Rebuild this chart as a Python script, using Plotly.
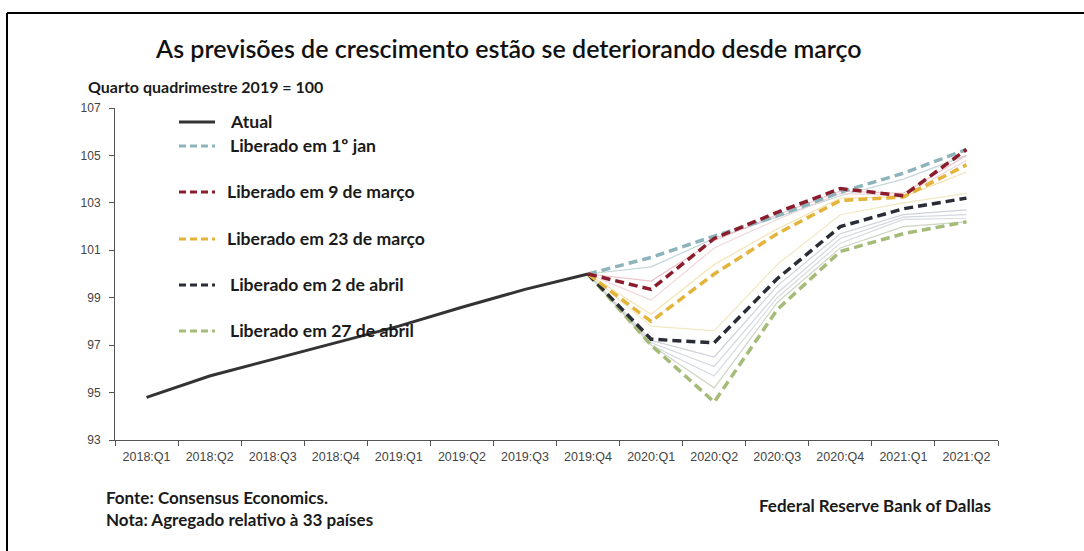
import plotly.graph_objects as go

# ---------------- data ----------------
quarters = ["2018:Q1", "2018:Q2", "2018:Q3", "2018:Q4", "2019:Q1", "2019:Q2", "2019:Q3",
            "2019:Q4", "2020:Q1", "2020:Q2", "2020:Q3", "2020:Q4", "2021:Q1", "2021:Q2"]
hist_q = quarters[:8]
fc_q = quarters[7:]

atual = [94.8, 95.7, 96.4, 97.1, 97.8, 98.6, 99.35, 100.0]

jan1 = [100.0, 100.7, 101.6, 102.45, 103.45, 104.25, 105.25]
mar9 = [100.0, 99.35, 101.5, 102.6, 103.6, 103.3, 105.25]
mar23 = [100.0, 98.0, 100.0, 101.7, 103.1, 103.25, 104.6]
abr2 = [100.0, 97.25, 97.1, 99.8, 102.0, 102.75, 103.2]
abr27 = [100.0, 97.0, 94.6, 98.5, 100.95, 101.7, 102.2]

# intermediate (unlabelled) releases, faint lines
thin_series = [
    [100.0, 100.3, 101.5, 102.4, 103.3, 104.0, 105.0],
    [100.0, 99.7, 101.4, 102.5, 103.5, 103.4, 105.0],
    [100.0, 98.9, 101.1, 102.3, 103.4, 103.3, 104.8],
    [100.0, 98.3, 100.4, 101.9, 103.2, 103.25, 104.3],
    [100.0, 97.8, 97.6, 100.4, 102.5, 103.0, 103.4],
    [100.0, 97.2, 96.5, 99.5, 101.7, 102.5, 102.7],
    [100.0, 97.1, 96.1, 99.2, 101.5, 102.4, 102.5],
    [100.0, 97.0, 95.7, 99.0, 101.3, 102.3, 102.35],
    [100.0, 97.0, 95.2, 98.8, 101.1, 102.0, 102.2],
]
thin_colors = ["#c3d6d8", "#ecc4ca", "#f1d6da", "#f3e4b4", "#f2e8c2",
               "#cfd2da", "#d4d7de", "#d8dbe1", "#cdd5c3"]

y_ticks = [93, 95, 97, 99, 101, 103, 105, 107]

labels = ["Atual", "Liberado em 1º jan", "Liberado em 9 de março", "Liberado em 23 de março",
          "Liberado em 2 de abril", "Liberado em 27 de abril"]

# ---------------- styles ----------------
C_ACT = "#333333"
C_JAN = "#8db4bb"
C_MAR9 = "#8b1c2c"
C_MAR23 = "#e3b33a"
C_ABR2 = "#2a2d36"
C_ABR27 = "#a5bb78"
DASH = "9px,5px"
FONT = "Lato"
LEG_FONT = dict(family=FONT, size=17.6, color="#1a1a1a", weight="bold")
SUB_FONT = dict(family=FONT, size=16, color="#1a1a1a", weight="bold")
FOOT_FONT = dict(family=FONT, size=17, color="#1a1a1a", weight="bold")

fig = go.Figure()

for s, c in zip(thin_series, thin_colors):
    fig.add_trace(go.Scatter(x=fc_q, y=s, mode="lines", line=dict(color=c, width=1.2),
                             showlegend=False, hoverinfo="skip"))

for s, c in [(jan1, C_JAN), (abr27, C_ABR27), (abr2, C_ABR2), (mar23, C_MAR23), (mar9, C_MAR9)]:
    fig.add_trace(go.Scatter(x=fc_q, y=s, mode="lines", line=dict(color=c, width=3.5, dash=DASH),
                             showlegend=False))

fig.add_trace(go.Scatter(x=hist_q, y=atual, mode="lines", line=dict(color=C_ACT, width=3),
                         showlegend=False))

# ---------------- layout geometry ----------------
W, H = 1084, 551
L, R, T, B = 115, 86, 108, 111
PW, PH = W - L - R, H - T - B


def px(x):
    return (x - L) / PW


def py(y):
    return (H - B - y) / PH


shapes = []
annotations = []

# frame (top and left border)
shapes.append(dict(type="line", xref="paper", yref="paper", x0=px(7), x1=px(1084), y0=py(13), y1=py(13),
                   line=dict(color="#000", width=2)))
shapes.append(dict(type="line", xref="paper", yref="paper", x0=px(7), x1=px(7), y0=py(13), y1=py(551),
                   line=dict(color="#000", width=2)))

# legend (manual)
leg = [
    (labels[0], C_ACT, "solid", 122, 228),
    (labels[1], C_JAN, DASH, 146, 228),
    (labels[2], C_MAR9, DASH, 192, 225),
    (labels[3], C_MAR23, DASH, 239, 225),
    (labels[4], C_ABR2, DASH, 285, 228),
    (labels[5], C_ABR27, DASH, 331, 228),
]
for txt, col, dash, yy, xt in leg:
    shapes.append(dict(type="line", xref="paper", yref="paper", x0=px(179), x1=px(215), y0=py(yy), y1=py(yy),
                       line=dict(color=col, width=3, dash=("solid" if dash == "solid" else "7px,4px"))))
    annotations.append(dict(text=txt, xref="paper", yref="paper", x=px(xt), y=py(yy - 1), xanchor="left",
                            yanchor="middle", showarrow=False, font=LEG_FONT))

# title & subtitle
annotations.append(dict(text="As previsões de crescimento estão se deteriorando desde março",
                        xref="paper", yref="paper", x=px(508), y=py(48), xanchor="center", yanchor="middle",
                        showarrow=False, font=dict(family=FONT, size=25, color="#111", weight=600)))
annotations.append(dict(text="Quarto quadrimestre 2019 = 100", xref="paper", yref="paper", x=px(86), y=py(86),
                        xanchor="left", yanchor="middle", showarrow=False, font=SUB_FONT))

# footer
annotations.append(dict(text="Fonte: Consensus Economics.", xref="paper", yref="paper", x=px(104), y=py(497),
                        xanchor="left", yanchor="middle", showarrow=False, font=FOOT_FONT))
annotations.append(dict(text="Nota: Agregado relativo à 33 países", xref="paper", yref="paper", x=px(104),
                        y=py(519), xanchor="left", yanchor="middle", showarrow=False, font=FOOT_FONT))
annotations.append(dict(text="Federal Reserve Bank of Dallas", xref="paper", yref="paper", x=px(757),
                        y=py(505), xanchor="left", yanchor="middle", showarrow=False, font=FOOT_FONT))

fig.update_layout(
    width=W, height=H,
    margin=dict(l=L, r=R, t=T, b=B, pad=0),
    paper_bgcolor="white", plot_bgcolor="white",
    showlegend=False,
    shapes=shapes, annotations=annotations,
    xaxis=dict(type="category", categoryorder="array", categoryarray=quarters,
               range=[-0.5, len(quarters) - 0.5], showgrid=False, zeroline=False,
               showline=True, linecolor="#555", linewidth=1,
               ticks="outside", tickson="boundaries", ticklen=5, tickcolor="#555",
               tickfont=dict(family="Liberation Sans", size=12.5, color="#444"), ticklabelstandoff=5),
    yaxis=dict(range=[93, 107], tickvals=y_ticks, showgrid=False, zeroline=False,
               showline=True, linecolor="#555", linewidth=1,
               ticks="outside", ticklen=5, tickcolor="#555",
               tickfont=dict(family="Liberation Sans", size=12, color="#444"), ticklabelstandoff=6),
)

fig.write_html("out.html")
